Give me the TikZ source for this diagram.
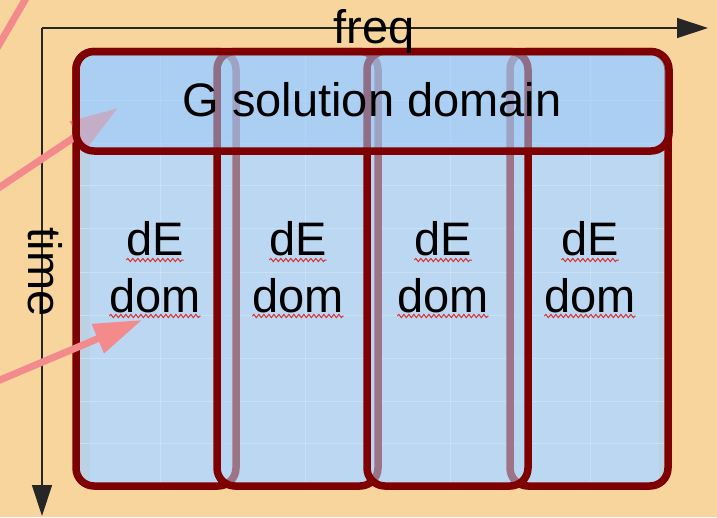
\documentclass[tikz,border=0pt]{standalone}
\usepackage{fontspec}
\setmainfont{Liberation Sans}
\usetikzlibrary{arrows.meta,calc,decorations.pathmorphing}
\definecolor{bgorange}{HTML}{F9D59E}
\definecolor{baseblue}{HTML}{C4DBF0}
\definecolor{colblue}{HTML}{B6D5F3}
\definecolor{topblue}{HTML}{9ECAF6}
\definecolor{boxred}{HTML}{7F0000}
\definecolor{pinkarrow}{HTML}{F38A8C}
\definecolor{stripegrey}{HTML}{C3CFD4}
\definecolor{squigred}{HTML}{D83030}
\begin{document}
\begin{tikzpicture}[x=1pt,y=-1pt,
  basebox/.style={rectangle, rounded corners=18pt, fill=baseblue, minimum height=434.5pt, inner sep=0pt, outer sep=0pt},
  colbox/.style={rectangle, rounded corners=18pt, draw=boxred, line width=7.5pt, fill=colblue, fill opacity=0.55, minimum height=434.5pt, inner sep=0pt, outer sep=0pt},
  topbox/.style={rectangle, rounded corners=18pt, draw=boxred, line width=7.5pt, fill=topblue, fill opacity=0.55, minimum width=593pt, minimum height=99.5pt, inner sep=0pt, outer sep=0pt},
  gridline/.style={draw=white, line width=0.8pt, opacity=0.55},
  pinkarr/.style={draw=pinkarrow, line width=7pt, -{Triangle[length=48pt,width=30pt]}},
  pinkline/.style={draw=pinkarrow, line width=7pt},
  axisline/.style={draw=black!85, line width=1.3pt, -{Triangle[length=31pt,width=20pt]}},
  lbl/.style={inner sep=0pt, outer sep=0pt, text=black, font=\fontsize{47}{57}\selectfont},
  squig/.style={draw=squigred, line width=1pt, decorate, decoration={snake, amplitude=1.6pt, segment length=5pt}}
]
\useasboundingbox (0,0) rectangle (717,517);
\clip (0,0) rectangle (717,517);
\fill[bgorange] (0,0) rectangle (717,517);

% pink line at top-left
\coordinate (p1s) at (-5,51.6);
\coordinate (p1e) at (28,-5.2);
\draw[pinkline] (p1s) -- (p1e);

% axes
\coordinate (origin) at (42,28);
\coordinate (fend) at (708,28);
\coordinate (tend) at (42,516);
\draw[axisline] (origin) -- (fend);
\draw[axisline] (origin) -- (tend);

% base blue (grid image)
\node[basebox, minimum width=160pt] (b1) at (156,268.75) {};
\node[basebox, minimum width=161pt] (b2) at (297.5,268.75) {};
\node[basebox, minimum width=161pt] (b3) at (447.5,268.75) {};
\node[basebox, minimum width=158pt] (b4) at (589,268.75) {};
\fill[stripegrey] (80,151) rectangle (90,484);
\fill[stripegrey] (659,55) rectangle (665,484);
\foreach \yy in {100,143,185,228,272,315,358,401,443}
  \draw[gridline] (80,\yy) -- (665,\yy);
\foreach \xx in {160,305,450,590}
  \draw[gridline] (\xx,55) -- (\xx,484);

% columns
\node[colbox, minimum width=160pt] (c1) at (156,268.75) {};
\node[colbox, minimum width=161pt] (c2) at (297.5,268.75) {};
\node[colbox, minimum width=158pt] (c4) at (589,268.75) {};
\node[colbox, minimum width=161pt] (c3) at (447.5,268.75) {};

% pink arrow into the top box
\coordinate (a2s) at (-10,193.7);
\coordinate (a2e) at (118,108);
\draw[pinkarr] (a2s) -- (a2e);

% top box
\node[topbox] (G) at (372.5,101.25) {};

% pink arrow into first column
\coordinate (a3s) at (-10,384.2);
\coordinate (a3e) at (142,320);
\draw[pinkarr] (a3s) -- (a3e);

% texts
\node[lbl, anchor=base] (gtext) at (372,116) {G solution domain};
\node[lbl, anchor=base] (freqt) at (374,43) {freq};
\node[lbl, anchor=base, rotate=-90] (timet) at (28,272) {time};

\node[lbl, anchor=base] (e1) at (155,255) {dE};
\node[lbl, anchor=base] (m1) at (155,312) {dom};
\node[lbl, anchor=base] (e2) at (298,255) {dE};
\node[lbl, anchor=base] (m2) at (298,312) {dom};
\node[lbl, anchor=base] (e3) at (443,255) {dE};
\node[lbl, anchor=base] (m3) at (443,312) {dom};
\node[lbl, anchor=base] (e4) at (590,255) {dE};
\node[lbl, anchor=base] (m4) at (590,312) {dom};

\foreach \n in {e1,e2,e3,e4}
  \draw[squig] ($(\n.base west)+(0,5)$) -- ($(\n.base east)+(0,5)$);
\foreach \n in {m1,m2,m3,m4}
  \draw[squig] ($(\n.base west)+(0,4)$) -- ($(\n.base east)+(0,4)$);
\end{tikzpicture}
\end{document}
